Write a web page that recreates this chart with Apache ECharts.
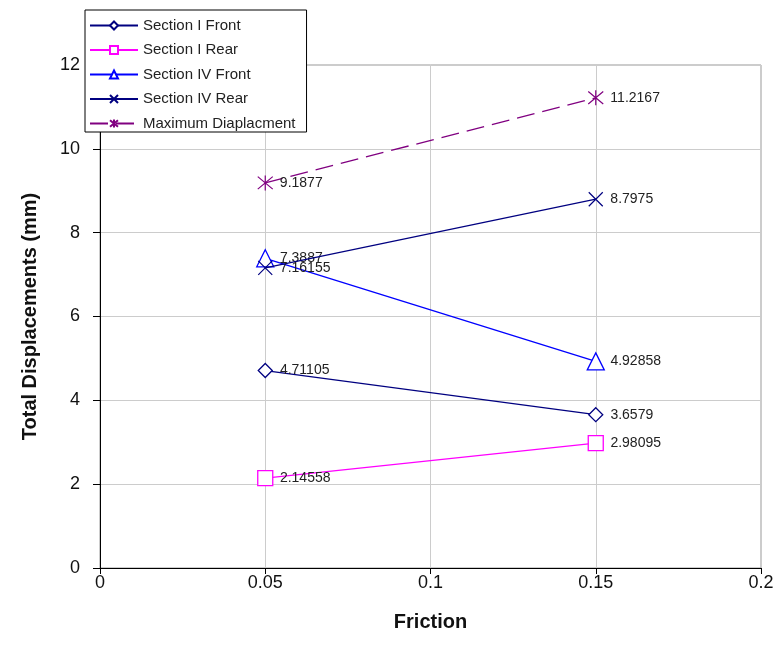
<!DOCTYPE html>
<html>
<head>
<meta charset="utf-8">
<script src="https://cdn.jsdelivr.net/npm/echarts@6/dist/echarts.min.js"></script>
<style>
html,body{margin:0;padding:0;background:#fff;}
#chart{width:781px;height:661px;}
</style>
</head>
<body>
<div id="chart"></div>
<script>
// ---- data ----
const friction = [0.05, 0.15];
const sectionIFront = [4.71105, 3.6579];
const sectionIRear = [2.14558, 2.98095];
const sectionIVFront = [7.3887, 4.92858];
const sectionIVRear = [7.16155, 8.7975];
const maxDisplacement = [9.1877, 11.2167];
const xTicks = [0, 0.05, 0.1, 0.15, 0.2];
const yTicks = [0, 2, 4, 6, 8, 10, 12];
const seriesNames = ['Section I Front', 'Section I Rear', 'Section IV Front', 'Section IV Rear', 'Maximum Diaplacment'];

const FONT = 'Arial, "Liberation Sans", sans-serif';
const xSym = 'path://M0,0L10,10M10,0L0,10';
const starSym = 'path://M0,0L10,10M10,0L0,10M5,-1L5,11';

function pts(vals){ return friction.map((f,i)=>[f, vals[i]]); }

function mk(name, vals, color, symbol, size, opts){
  opts = opts || {};
  const isPath = symbol.indexOf('path://') === 0;
  return {
    name: name,
    type: 'line',
    data: pts(vals),
    symbol: symbol,
    symbolSize: size,
    showAllSymbol: true,
    lineStyle: {color: color, width: 1.3, type: opts.dash || 'solid'},
    itemStyle: isPath
      ? {color: 'rgba(0,0,0,0)', borderColor: color, borderWidth: 1.2}
      : {color: '#fff', borderColor: color, borderWidth: 1.3},
    label: {
      show: true, position: 'right', distance: Math.max(2, 14 - size/2),
      fontFamily: FONT, fontSize: 14, color: '#222',
      formatter: p => String(p.value[1])
    },
    emphasis: {disabled: true},
    z: opts.z || 2
  };
}

const chart = echarts.init(document.getElementById('chart'), null, {renderer: 'canvas'});
chart.setOption({
  animation: false,
  backgroundColor: '#fff',
  grid: {left: 100, right: 20, top: 65, bottom: 93, show: true, borderColor: '#999', borderWidth: 1, containLabel: false},
  legend: {
    data: seriesNames,
    orient: 'vertical',
    left: 85, top: 10,
    backgroundColor: '#fff',
    borderColor: '#000', borderWidth: 1,
    padding: [8, 11, 1, 4],
    itemWidth: 48, itemHeight: 10, itemGap: 9.5,
    textStyle: {fontFamily: FONT, fontSize: 15, color: '#222'},
    z: 10
  },
  xAxis: {
    type: 'value', min: 0, max: 0.2, interval: 0.05,
    name: 'Friction', nameLocation: 'middle', nameGap: 44,
    nameTextStyle: {fontFamily: FONT, fontSize: 20, fontWeight: 'bold', color: '#111'},
    axisLine: {show: true, onZero: false, lineStyle: {color: '#000', width: 1}},
    axisTick: {show: true, length: 6, lineStyle: {color: '#000'}},
    axisLabel: {fontFamily: FONT, fontSize: 18, color: '#111', margin: 6,
      formatter: v => { const t = xTicks.find(x => Math.abs(x - v) < 1e-9); return t === undefined ? '' : String(t); }},
    splitLine: {show: true, lineStyle: {color: '#ccc', width: 1}}
  },
  yAxis: {
    type: 'value', min: 0, max: 12, interval: 2,
    name: 'Total Displacements (mm)', nameLocation: 'middle', nameGap: 60,
    nameTextStyle: {fontFamily: FONT, fontSize: 20, fontWeight: 'bold', color: '#111'},
    axisLine: {show: true, onZero: false, lineStyle: {color: '#000', width: 1}},
    axisTick: {show: true, length: 7, lineStyle: {color: '#000'}},
    axisLabel: {fontFamily: FONT, fontSize: 18, color: '#111', margin: 20,
      formatter: v => { const t = yTicks.find(y => Math.abs(y - v) < 1e-9); return t === undefined ? '' : String(t); }},
    splitLine: {show: true, lineStyle: {color: '#ccc', width: 1}}
  },
  series: [
    mk(seriesNames[0], sectionIFront, '#000080', 'diamond', 14),
    mk(seriesNames[1], sectionIRear, '#FF00FF', 'rect', 15),
    mk(seriesNames[2], sectionIVFront, '#0000FF', 'triangle', 17),
    mk(seriesNames[3], sectionIVRear, '#000080', xSym, 14, {z: 3}),
    mk(seriesNames[4], maxDisplacement, '#800080', starSym, 15, {dash: [18, 8]})
  ]
});
</script>
</body>
</html>
